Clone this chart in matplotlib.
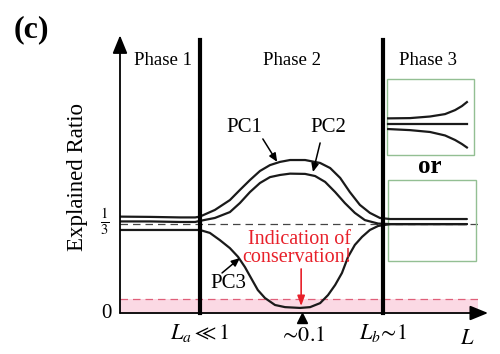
import matplotlib
matplotlib.use("Agg")
import matplotlib.pyplot as plt
from matplotlib.patches import Rectangle

plt.rcParams['font.family'] = ['Liberation Serif', 'DejaVu Serif']
plt.rcParams['mathtext.fontset'] = 'stix'

# Schematic length axis (0..100) and explained-ratio values of the three PCs
pc1_x = [0, 8.4, 16.8, 21.0, 22.3, 26.5, 30.7, 33.5, 36.3, 39.1, 41.9, 44.7, 47.5,
         51.7, 55.9, 58.7, 61.5, 64.2, 67.0, 69.8, 72.6, 75.4, 83.8, 96.9]
pc1_y = [0.361, 0.360, 0.358, 0.358, 0.361, 0.386, 0.423, 0.461, 0.498, 0.532, 0.554,
         0.566, 0.573, 0.573, 0.562, 0.543, 0.506, 0.453, 0.405, 0.375, 0.356, 0.352,
         0.352, 0.352]

pc2_x = [0, 8.4, 16.8, 21.0, 22.3, 26.5, 30.7, 33.5, 36.3, 39.1, 41.9, 44.7, 47.5,
         51.7, 54.5, 57.3, 60.1, 62.8, 65.6, 68.4, 72.1, 75.4, 96.9]
pc2_y = [0.343, 0.343, 0.341, 0.341, 0.345, 0.356, 0.378, 0.412, 0.453, 0.487, 0.509,
         0.517, 0.522, 0.521, 0.513, 0.491, 0.453, 0.412, 0.375, 0.348, 0.335, 0.333,
         0.333]

pc3_x = [0, 8.4, 16.8, 22.3, 25.1, 27.9, 30.7, 33.0, 34.9, 36.9, 38.5, 40.5, 43.3,
         46.1, 50.3, 53.1, 55.9, 58.1, 60.1, 62.0, 63.7, 65.6, 67.6, 69.8, 72.1, 75.4,
         96.9]
pc3_y = [0.311, 0.311, 0.311, 0.311, 0.300, 0.273, 0.243, 0.210, 0.172, 0.124, 0.086,
         0.056, 0.030, 0.022, 0.019, 0.022, 0.037, 0.067, 0.105, 0.150, 0.210, 0.255,
         0.285, 0.311, 0.326, 0.333, 0.333]

# Alternative phase-3 behaviour (upper inset)
inset_x = [74.9, 81.0, 86.6, 90.8, 93.6, 95.5, 96.9]
inset_up = [0.729, 0.730, 0.736, 0.745, 0.760, 0.775, 0.790]
inset_mid = [0.708, 0.708, 0.708, 0.708, 0.708, 0.708, 0.708]
inset_low = [0.689, 0.685, 0.678, 0.665, 0.648, 0.633, 0.620]

# Key positions on the length axis
L_a = 22.35
L_min = 50.8
L_b = 73.5
x_end = 100.0
third = 1 / 3
band_top = 0.052
phase_labels = ["Phase 1", "Phase 2", "Phase 3"]
phase_x = [12.0, 48.0, 86.0]

fig = plt.figure(figsize=(5, 3.54), dpi=100)
ax = fig.add_axes([0.24, 0.1158, 0.716, 0.7542])
ax.set_xlim(0, 100)
ax.set_ylim(0, 1)
ax.axis('off')

# Shaded region near zero and the reference levels
ax.add_patch(Rectangle((0, 0), x_end, band_top, facecolor='#fbd9e4',
                       edgecolor='none', zorder=0))
ax.plot([0, x_end], [band_top, band_top], color='#e0607a', lw=0.9,
        dashes=(6, 4), zorder=1)
ax.plot([0, x_end], [third, third], color='#444444', lw=0.9,
        dashes=(6, 4), zorder=1)

# Curves
for xs, ys in [(pc1_x, pc1_y), (pc2_x, pc2_y), (pc3_x, pc3_y)]:
    ax.plot(xs, ys, color='#1a1a1a', lw=1.6, zorder=3, solid_capstyle='round',
            solid_joinstyle='round')

# Phase boundaries
for xb in (L_a, L_b):
    ax.plot([xb, xb], [0, 1.022], color='black', lw=3.0, zorder=4, clip_on=False)

# Axes with arrowheads
ax.annotate('', xy=(0, 1.04), xytext=(0, 0), xycoords='data',
            arrowprops=dict(arrowstyle='-|>,head_length=1.1,head_width=0.45',
                            color='black', lw=1.3, shrinkA=0, shrinkB=0),
            annotation_clip=False, zorder=5)
ax.annotate('', xy=(102.8, 0), xytext=(0, 0), xycoords='data',
            arrowprops=dict(arrowstyle='-|>,head_length=1.1,head_width=0.45',
                            color='black', lw=1.3, shrinkA=0, shrinkB=0),
            annotation_clip=False, zorder=5)

# Inset boxes for phase 3
green = '#93bf93'
ax.add_patch(Rectangle((74.6, 0.592), 24.3, 0.284, facecolor='none',
                       edgecolor=green, lw=1.0, zorder=2, clip_on=False))
ax.add_patch(Rectangle((74.9, 0.195), 24.5, 0.303, facecolor='none',
                       edgecolor=green, lw=1.0, zorder=2, clip_on=False))
for ys in (inset_up, inset_mid, inset_low):
    ax.plot(inset_x, ys, color='#1a1a1a', lw=1.6, zorder=3)
ax.text(86.6, 0.548, 'or', ha='center', va='center', fontsize=18,
        fontweight='bold')

# Phase labels
for lab, xp in zip(phase_labels, phase_x):
    ax.text(xp, 0.947, lab, ha='center', va='center', fontsize=13.5)

# Curve labels with arrows
arrow_kw = dict(arrowstyle='-|>,head_length=0.5,head_width=0.22', color='black',
                lw=1.1, shrinkA=0, shrinkB=0)
ax.text(34.6, 0.693, 'PC1', ha='center', va='center', fontsize=15)
ax.annotate('', xy=(43.9, 0.566), xytext=(39.9, 0.652), arrowprops=arrow_kw)
ax.text(58.1, 0.693, 'PC2', ha='center', va='center', fontsize=15)
ax.annotate('', xy=(53.9, 0.528), xytext=(55.9, 0.637), arrowprops=arrow_kw)
ax.text(30.4, 0.112, 'PC3', ha='center', va='center', fontsize=15)
ax.annotate('', xy=(33.5, 0.206), xytext=(28.5, 0.150), arrowprops=arrow_kw)

# Conservation note
red = '#e8202a'
ax.text(50.0, 0.275, 'Indication of', ha='center', va='center', fontsize=14.5,
        color=red)
ax.text(49.5, 0.208, 'conservation!', ha='center', va='center', fontsize=14.5,
        color=red)
ax.annotate('', xy=(50.6, 0.026), xytext=(50.6, 0.165),
            arrowprops=dict(arrowstyle='-|>,head_length=0.6,head_width=0.22',
                            color=red, lw=1.2, shrinkA=0, shrinkB=0))

# Marker at the minimum position
ax.plot([L_min], [-0.02], marker='^', color='black', markersize=6.5,
        clip_on=False, zorder=5)

# Axis tick texts
ax.text(L_a, -0.075, r'$L_a \ll 1$', ha='center', va='center', fontsize=16)
ax.text(L_min, -0.088, r'$\sim\!0.1$', ha='center', va='center', fontsize=16)
ax.text(L_b, -0.075, r'$L_b\!\sim\!1$', ha='center', va='center', fontsize=16)
ax.text(96.9, -0.10, r'$L$', ha='center', va='center', fontsize=16)
ax.text(-4.3, third + 0.01, r'$\frac{1}{3}$', ha='center', va='center', fontsize=15)
ax.text(-3.9, 0.0, '0', ha='center', va='center', fontsize=15)
ax.text(-11.9, 0.51, 'Explained Ratio', ha='center', va='center', fontsize=16.5,
        rotation=90)

fig.text(0.062, 0.915, '(c)', ha='center', va='center', fontsize=23,
         fontweight='bold')

fig.savefig('out.png', dpi=100)
